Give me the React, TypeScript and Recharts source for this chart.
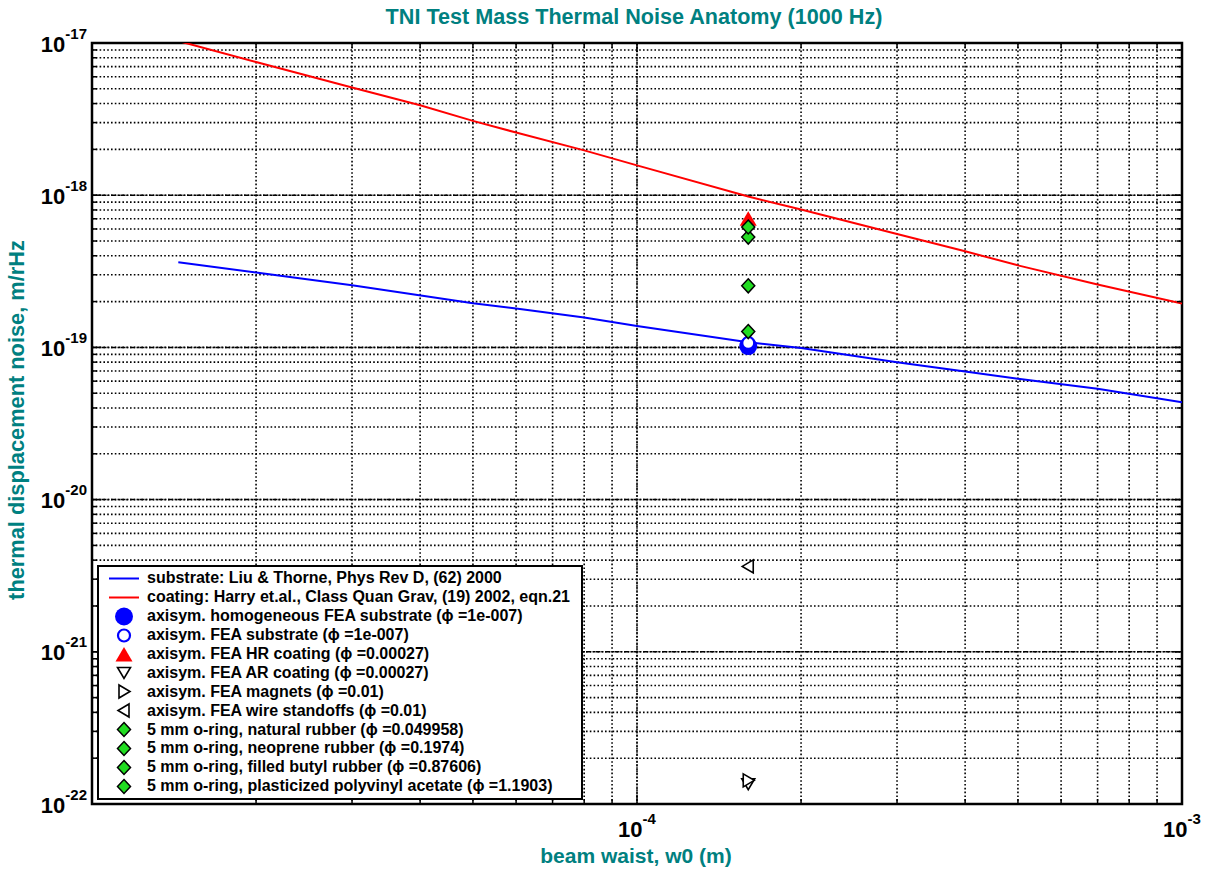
import { CartesianGrid, ComposedChart, Line, ReferenceArea, ReferenceLine, Scatter, XAxis, YAxis } from 'recharts'

const FONT = '"Liberation Sans", Arial, Helvetica, sans-serif'
const TEAL = '#008080'
const GREEN = '#22dd22'

// plot box in page pixels
const LEFT = 92
const TOP = 43
const PLOT_W = 1090
const PLOT_H = 761

// analytic models, beam waist w0 (m) vs displacement noise (m/rHz)
const substrateW = [1.44e-5, 2e-5, 3e-5, 5e-5, 6e-5, 8e-5, 1e-4, 1.6e-4, 2e-4, 3e-4, 4e-4, 5e-4, 7e-4, 1e-3]
const substrateNoise = [3.62e-19, 3.1e-19, 2.56e-19, 1.95e-19, 1.8e-19, 1.57e-19, 1.38e-19, 1.08e-19, 9.9e-20, 8.0e-20, 6.95e-20, 6.22e-20, 5.35e-20, 4.36e-20]

const coatingW = [1.44e-5, 2e-5, 3e-5, 4e-5, 5e-5, 6e-5, 8e-5, 1e-4, 1.6e-4, 2e-4, 3e-4, 4e-4, 5e-4, 7e-4, 1e-3]
const coatingNoise = [1.03e-17, 7.5e-18, 5.1e-18, 3.9e-18, 3.08e-18, 2.58e-18, 1.97e-18, 1.57e-18, 9.8e-19, 8.05e-19, 5.56e-19, 4.28e-19, 3.46e-19, 2.59e-19, 1.94e-19]

// FEA results, all at the same beam waist
const feaWaist = 1.6e-4
const homogeneousSubstrate = 1.02e-19
const feaSubstrate = 1.07e-19
const hrCoating = 7.0e-19
const arCoating = 1.36e-22
const magnets = 1.43e-22
const wireStandoffs = 3.64e-21
const naturalRubber = 1.27e-19
const neopreneRubber = 2.54e-19
const butylRubber = 5.31e-19
const polyvinylAcetate = 6.18e-19

const xMajor = [1e-5, 1e-4, 1e-3]
const yMajor = [1e-22, 1e-21, 1e-20, 1e-19, 1e-18, 1e-17]
const mantissas = [1, 2, 3, 4, 5, 6, 7, 8, 9]

const withMinors = (majors: number[]) =>
  majors.flatMap((m, i) => (i === majors.length - 1 ? [m] : mantissas.map(k => k * m)))
const xTicks = withMinors(xMajor)
const yTicks = withMinors(yMajor)
const isDecade = (v: number) => Math.abs(Math.log10(v) - Math.round(Math.log10(v))) < 1e-9

const pts = (ws: number[], vs: number[]) => ws.map((w, i) => ({ w, v: vs[i] }))
const one = (v: number) => [{ w: feaWaist, v }]

type Kind = 'disc' | 'ring' | 'up' | 'down' | 'right' | 'left' | 'diamond' | 'blueLine' | 'redLine'

function Marker({ kind, cx, cy }: { kind: Kind; cx: number; cy: number }) {
  switch (kind) {
    case 'disc':
      return <circle cx={cx} cy={cy} r={9} fill="#0000ff" />
    case 'ring':
      return <circle cx={cx} cy={cy} r={6} fill="#fff" stroke="#0000ff" strokeWidth={2.2} />
    case 'up':
      return <polygon points={`${cx},${cy - 7.5} ${cx + 8.5},${cy + 7} ${cx - 8.5},${cy + 7}`} fill="#ff0000" />
    case 'down':
      return <polygon points={`${cx - 6.5},${cy - 5} ${cx + 6.5},${cy - 5} ${cx},${cy + 6}`} fill="#fff" stroke="#000" strokeWidth={1.6} />
    case 'right':
      return <polygon points={`${cx - 5},${cy - 6.5} ${cx + 6},${cy} ${cx - 5},${cy + 6.5}`} fill="#fff" stroke="#000" strokeWidth={1.6} />
    case 'left':
      return <polygon points={`${cx + 5},${cy - 6.5} ${cx - 6},${cy} ${cx + 5},${cy + 6.5}`} fill="#fff" stroke="#000" strokeWidth={1.6} />
    case 'diamond':
      return <polygon points={`${cx},${cy - 7} ${cx + 6.5},${cy} ${cx},${cy + 7} ${cx - 6.5},${cy}`} fill={GREEN} stroke="#000" strokeWidth={1.5} />
    case 'blueLine':
      return <line x1={cx - 15} x2={cx + 15} y1={cy} y2={cy} stroke="#0000ff" strokeWidth={2} />
    case 'redLine':
      return <line x1={cx - 15} x2={cx + 15} y1={cy} y2={cy} stroke="#ff0000" strokeWidth={2} />
  }
}

const markerSeries: { kind: Kind; label: string; v: number }[] = [
  { kind: 'disc', label: 'axisym. homogeneous FEA substrate (ϕ =1e-007)', v: homogeneousSubstrate },
  { kind: 'ring', label: 'axisym. FEA substrate (ϕ =1e-007)', v: feaSubstrate },
  { kind: 'up', label: 'axisym. FEA HR coating (ϕ =0.00027)', v: hrCoating },
  { kind: 'down', label: 'axisym. FEA AR coating (ϕ =0.00027)', v: arCoating },
  { kind: 'right', label: 'axisym. FEA magnets (ϕ =0.01)', v: magnets },
  { kind: 'left', label: 'axisym. FEA wire standoffs (ϕ =0.01)', v: wireStandoffs },
  { kind: 'diamond', label: '5 mm o-ring, natural rubber (ϕ =0.049958)', v: naturalRubber },
  { kind: 'diamond', label: '5 mm o-ring, neoprene rubber (ϕ =0.1974)', v: neopreneRubber },
  { kind: 'diamond', label: '5 mm o-ring, filled butyl rubber (ϕ =0.87606)', v: butylRubber },
  { kind: 'diamond', label: '5 mm o-ring, plasticized polyvinyl acetate (ϕ =1.1903)', v: polyvinylAcetate },
]

const legendRows: { kind: Kind; label: string }[] = [
  { kind: 'blueLine', label: 'substrate: Liu & Thorne, Phys Rev D, (62) 2000' },
  { kind: 'redLine', label: 'coating: Harry et.al., Class Quan Grav, (19) 2002, eqn.21' },
  ...markerSeries,
]

function PowerLabel({ x, y, exp, anchor }: { x: number; y: number; exp: number; anchor: 'end' | 'middle' }) {
  return (
    <text x={x} y={y} textAnchor={anchor} fontFamily={FONT} fontWeight="bold" fontSize={22} fill="#000">
      10
      <tspan dy={-13} fontSize={15}>{exp}</tspan>
    </text>
  )
}

// inward ticks on left + right edges, decade labels on the left
function YTick({ x, y, payload }: any) {
  const major = isDecade(payload.value)
  const len = major ? 9 : 5
  return (
    <g>
      <line x1={x} x2={x + len} y1={y} y2={y} stroke="#000" strokeWidth={1.5} />
      <line x1={x + PLOT_W} x2={x + PLOT_W - len} y1={y} y2={y} stroke="#000" strokeWidth={1.5} />
      {major && <PowerLabel x={x - 5} y={y + 8.5} exp={Math.round(Math.log10(payload.value))} anchor="end" />}
    </g>
  )
}

// inward ticks on bottom + top edges, decade labels below
function XTick({ x, y, payload }: any) {
  const major = isDecade(payload.value)
  const len = major ? 9 : 5
  return (
    <g>
      <line x1={x} x2={x} y1={y} y2={y - len} stroke="#000" strokeWidth={1.5} />
      <line x1={x} x2={x} y1={y - PLOT_H} y2={y - PLOT_H + len} stroke="#000" strokeWidth={1.5} />
      {major && payload.value > xMajor[0] && (
        <PowerLabel x={x} y={y + 33} exp={Math.round(Math.log10(payload.value))} anchor="middle" />
      )}
    </g>
  )
}

export default function App() {
  return (
    <div style={{ position: 'absolute', left: 0, top: 0, width: 1206, height: 871, background: '#fff' }}>
      <ComposedChart
        width={1206}
        height={871}
        margin={{ top: TOP, right: 1206 - LEFT - PLOT_W, bottom: 871 - TOP - PLOT_H - 1, left: LEFT - 1 }}
      >
        <CartesianGrid stroke="#000" strokeWidth={1.6} strokeDasharray="1.6 2.2" />
        {yMajor.map(v => (
          <ReferenceLine key={`y${v}`} y={v} stroke="#000" strokeWidth={1.5} strokeDasharray="5 1.5 1.5 1.5" />
        ))}
        {xMajor.map(v => (
          <ReferenceLine key={`x${v}`} x={v} stroke="#000" strokeWidth={1.5} strokeDasharray="1.6 1.6" />
        ))}
        <XAxis
          dataKey="w"
          type="number"
          scale="log"
          domain={[xMajor[0], xMajor[xMajor.length - 1]]}
          ticks={xTicks}
          interval={0}
          height={1}
          tickSize={0}
          tickMargin={0}
          tickLine={false}
          axisLine={false}
          allowDataOverflow
          tick={<XTick />}
        />
        <YAxis
          dataKey="v"
          type="number"
          scale="log"
          domain={[yMajor[0], yMajor[yMajor.length - 1]]}
          ticks={yTicks}
          interval={0}
          width={1}
          tickSize={0}
          tickMargin={0}
          tickLine={false}
          axisLine={false}
          allowDataOverflow
          tick={<YTick />}
        />
        <ReferenceArea
          x1={xMajor[0]}
          x2={xMajor[xMajor.length - 1]}
          y1={yMajor[0]}
          y2={yMajor[yMajor.length - 1]}
          fill="none"
          fillOpacity={0}
          stroke="#000"
          strokeWidth={2.5}
        />
        <Line data={pts(substrateW, substrateNoise)} dataKey="v" stroke="#0000ff" strokeWidth={2} dot={false} isAnimationActive={false} />
        <Line data={pts(coatingW, coatingNoise)} dataKey="v" stroke="#ff0000" strokeWidth={2} dot={false} isAnimationActive={false} />
        {markerSeries.map((s, i) => (
          <Scatter
            key={i}
            data={one(s.v)}
            dataKey="v"
            isAnimationActive={false}
            shape={(p: any) => <Marker kind={s.kind} cx={p.cx} cy={p.cy} />}
          />
        ))}
      </ComposedChart>

      <svg width={1206} height={871} style={{ position: 'absolute', left: 0, top: 0, pointerEvents: 'none' }}>
        <text x={634} y={24} textAnchor="middle" fontFamily={FONT} fontWeight="bold" fontSize={21.6} fill={TEAL}>
          TNI Test Mass Thermal Noise Anatomy (1000 Hz)
        </text>
        <text x={636} y={863} textAnchor="middle" fontFamily={FONT} fontWeight="bold" fontSize={21} fill={TEAL}>
          beam waist, w0 (m)
        </text>
        <text transform="translate(24,420) rotate(-90)" textAnchor="middle" fontFamily={FONT} fontWeight="bold" fontSize={21.8} fill={TEAL}>
          thermal displacement noise, m/rHz
        </text>
      </svg>

      <div
        style={{
          position: 'absolute',
          left: 97,
          top: 565,
          width: 482,
          height: 229,
          paddingTop: 2,
          border: '2px solid #000',
          background: '#fff',
          fontFamily: FONT,
          fontWeight: 'bold',
          fontSize: 16,
          color: '#000',
        }}
      >
        {legendRows.map((row, i) => (
          <div key={i} style={{ height: 18.9, display: 'flex', alignItems: 'center', whiteSpace: 'nowrap' }}>
            <svg width={48} height={19} style={{ flex: 'none' }}>
              <Marker kind={row.kind} cx={25} cy={9.5} />
            </svg>
            <span>{row.label}</span>
          </div>
        ))}
      </div>
    </div>
  )
}
